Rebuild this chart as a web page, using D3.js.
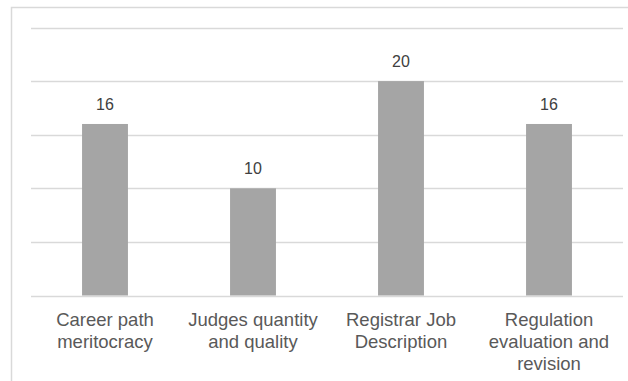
<!DOCTYPE html>
<html>
<head>
<meta charset="utf-8">
<script src="https://cdn.jsdelivr.net/npm/d3@7"></script>
<style>
  html, body { margin: 0; padding: 0; background: #fff; }
  svg { display: block; font-family: "Liberation Sans", Arial, sans-serif; }
</style>
</head>
<body>
<svg id="chart" width="628" height="381"></svg>
<script>
// Number of measures per area
const categories = [
  ["Career path", "meritocracy"],
  ["Judges quantity", "and quality"],
  ["Registrar Job", "Description"],
  ["Regulation", "evaluation and", "revision"]
];
const values = [16, 10, 20, 16];
const yTicks = [0, 5, 10, 15, 20, 25];

const svg = d3.select("#chart");
const W = 628, H = 381;

// Chart frame (runs off the right and bottom edges)
svg.append("rect")
  .attr("x", 11.5).attr("y", 7.5)
  .attr("width", W).attr("height", H)
  .attr("fill", "#fff")
  .attr("stroke", "#d9d9d9")
  .attr("stroke-width", 1.5);

const plot = { left: 31, right: 623, top: 27.5, bottom: 295.5 };

const x = d3.scaleBand()
  .domain(d3.range(categories.length))
  .range([plot.left, plot.right])
  .paddingInner(0.69)
  .paddingOuter(0.345);

const y = d3.scaleLinear()
  .domain([0, 25])
  .range([plot.bottom, plot.top]);

// Horizontal gridlines
svg.append("g")
  .selectAll("line")
  .data(yTicks)
  .join("line")
  .attr("x1", plot.left).attr("x2", plot.right)
  .attr("y1", d => Math.round(y(d)) + 0.5)
  .attr("y2", d => Math.round(y(d)) + 0.5)
  .attr("stroke", "#d9d9d9")
  .attr("stroke-width", 1.5);

// Bars
svg.append("g")
  .selectAll("rect")
  .data(values)
  .join("rect")
  .attr("x", (d, i) => x(i))
  .attr("width", x.bandwidth())
  .attr("y", d => y(d))
  .attr("height", d => y(0) - y(d))
  .attr("fill", "#a5a5a5");

// Value labels
svg.append("g")
  .selectAll("text")
  .data(values)
  .join("text")
  .attr("x", (d, i) => x(i) + x.bandwidth() / 2)
  .attr("y", d => y(d) - 14)
  .attr("text-anchor", "middle")
  .attr("font-size", 16)
  .attr("fill", "#404040")
  .text(d => d);

// Category labels
const catG = svg.append("g");
categories.forEach((lines, i) => {
  const t = catG.append("text")
    .attr("x", x(i) + x.bandwidth() / 2)
    .attr("y", plot.bottom + 30)
    .attr("text-anchor", "middle")
    .attr("font-size", 18.5)
    .attr("fill", "#595959");
  lines.forEach((s, j) => {
    t.append("tspan")
      .attr("x", x(i) + x.bandwidth() / 2)
      .attr("dy", j === 0 ? 0 : 22)
      .text(s);
  });
});
</script>
</body>
</html>
